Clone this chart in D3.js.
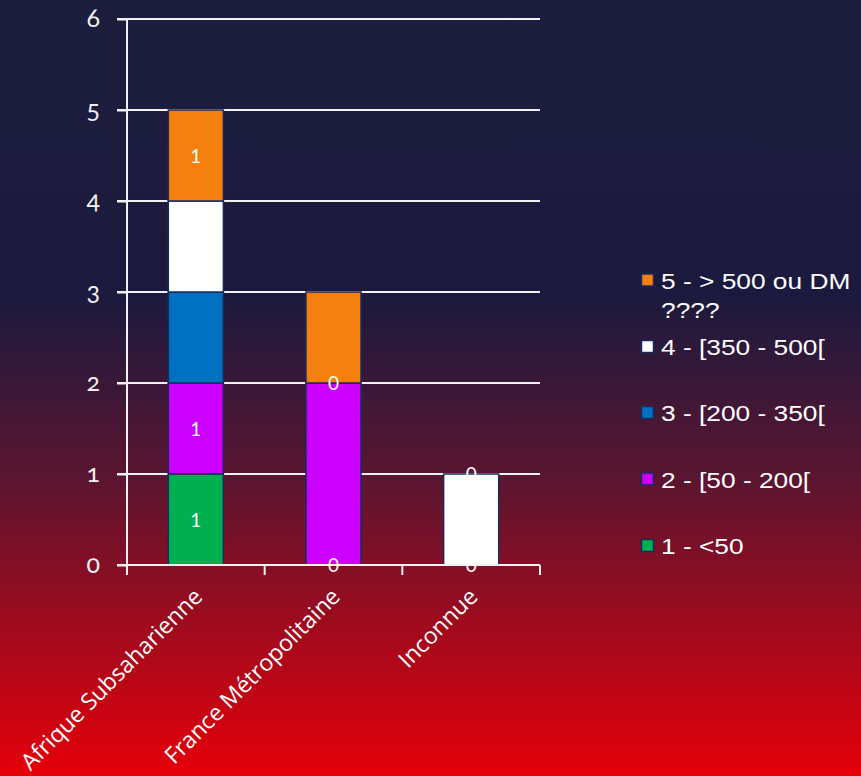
<!DOCTYPE html>
<html><head><meta charset="utf-8">
<script src="https://cdn.jsdelivr.net/npm/d3@7"></script>
<style>html,body{margin:0;padding:0;}svg{display:block;}</style>
</head><body>
<script>
const categories = ["Afrique Subsaharienne", "France Métropolitaine", "Inconnue"];
const seriesNames = ["1 - <50", "2 - [50 - 200[", "3 - [200 - 350[", "4 - [350 - 500[", "5 - > 500 ou DM ????"];
const seriesColors = ["#00b050", "#cc00ff", "#0070c0", "#ffffff", "#f58010"];
const s1 = [1, 0, 0];
const s2 = [1, 2, 0];
const s3 = [1, 0, 0];
const s4 = [1, 0, 1];
const s5 = [1, 1, 0];
const yTicks = [0, 1, 2, 3, 4, 5, 6];
// visible data labels: [category index, series index, text]
const shownLabels = [[0,0,"1"],[0,1,"1"],[0,4,"1"],[1,0,"0"],[1,2,"0"],[2,0,"0"],[2,4,"0"]];

const W = 861, H = 776;
const svg = d3.select("body").append("svg").attr("width", W).attr("height", H);
const defs = svg.append("defs");
const g = defs.append("linearGradient").attr("id","bg").attr("x1",0).attr("y1",0).attr("x2",0).attr("y2",1);
g.append("stop").attr("offset","0").attr("stop-color","#1d1e3e");
g.append("stop").attr("offset","0.38").attr("stop-color","#1b1a3e");
g.append("stop").attr("offset","0.62").attr("stop-color","#5c1530");
g.append("stop").attr("offset","1").attr("stop-color","#e6000a");
svg.append("rect").attr("width",W).attr("height",H).attr("fill","url(#bg)");

const x0 = 127, x1 = 540, yTop = 19, yBot = 565;
const x = d3.scaleBand().domain(categories).range([x0, x1]).paddingInner(0.6).paddingOuter(0.3);
const y = d3.scaleLinear().domain([0, 6]).range([yBot, yTop]);

const rows = categories.map((c, i) => {
  const r = {cat: c};
  [s1, s2, s3, s4, s5].forEach((s, j) => r[seriesNames[j]] = s[i]);
  return r;
});
const stacked = d3.stack().keys(seriesNames)(rows);

// gridlines
svg.append("g").selectAll("line").data(yTicks.slice(1)).join("line")
  .attr("x1", x0 - 10).attr("x2", x1).attr("y1", d => y(d)).attr("y2", d => y(d))
  .attr("stroke", "#f2f2f2").attr("stroke-width", 2);

// bars
stacked.forEach((layer, j) => {
  svg.append("g").selectAll("rect").data(layer.filter(d => d[1] - d[0] > 0)).join("rect")
    .attr("x", d => x(d.data.cat)).attr("width", x.bandwidth())
    .attr("y", d => y(d[1])).attr("height", d => y(d[0]) - y(d[1]))
    .attr("fill", seriesColors[j]).attr("stroke", "#1a2a5c").attr("stroke-width", 1.5);
});

// y axis
const yAxis = d3.axisLeft(y).tickValues(yTicks).tickSize(10).tickPadding(17).tickFormat(d3.format("d"));
const ya = svg.append("g").attr("transform", `translate(${x0},0)`).call(yAxis);
ya.attr("font-size", null).attr("font-family", null);
ya.select(".domain").attr("stroke", "#f2f2f2").attr("stroke-width", 2).attr("d", `M0,${yBot}V${yTop}`);
ya.selectAll(".tick line").attr("stroke", "#f2f2f2").attr("stroke-width", 2);
ya.selectAll(".tick text").attr("fill", "#f2f2f2").attr("dy", "0.3em")
  .attr("font-family", "Lato, 'Open Sans', sans-serif").attr("font-size", 25)
  .style("font-variant-numeric", "oldstyle-nums");

// x axis
const xa = svg.append("g").attr("transform", `translate(0,${yBot})`);
xa.append("line").attr("x1", x0 - 10).attr("x2", x1).attr("y1", 0).attr("y2", 0).attr("stroke", "#f2f2f2").attr("stroke-width", 2);
const step = (x1 - x0) / categories.length;
xa.selectAll(".tk").data(d3.range(categories.length + 1)).join("line")
  .attr("x1", i => x0 + i * step).attr("x2", i => x0 + i * step).attr("y1", 0).attr("y2", 10)
  .attr("stroke", "#f2f2f2").attr("stroke-width", 2);
xa.selectAll(".lbl").data(categories).join("text")
  .attr("transform", d => `translate(${x(d) + x.bandwidth() / 2 + 8},${33}) rotate(-45)`)
  .attr("text-anchor", "end").attr("fill", "#ffffff")
  .attr("font-family", "'Open Sans', sans-serif").attr("font-size", 23).text(d => d);

// data labels
svg.append("g").selectAll("text").data(shownLabels).join("text")
  .attr("x", d => x(categories[d[0]]) + x.bandwidth() / 2)
  .attr("y", d => { const seg = stacked[d[1]][d[0]]; return y((seg[0] + seg[1]) / 2) + 7; })
  .attr("text-anchor", "middle").attr("fill", "#ffffff")
  .attr("font-family", "Lato, 'Open Sans', sans-serif").attr("font-size", 19).text(d => d[2]);

// legend
const legendY = [280, 346.5, 412.5, 479, 545.5];
const leg = svg.append("g");
seriesNames.slice().reverse().forEach((name, k) => {
  const j = seriesNames.length - 1 - k;
  const cy = legendY[k];
  leg.append("rect").attr("x", 641.5).attr("y", cy - 6).attr("width", 12).attr("height", 12)
    .attr("fill", seriesColors[j]).attr("stroke", "#1a2a5c").attr("stroke-width", 1.5);
  const t = leg.append("text").attr("transform", `translate(661,${cy + 8.5}) scale(1.17,1)`).attr("fill", "#ffffff")
    .attr("font-family", "'Liberation Sans', Arial, sans-serif").attr("font-size", 22.5);
  if (name.length > 16) {
    t.append("tspan").attr("x", 0).text("5 - > 500 ou DM");
    t.append("tspan").attr("x", 0).attr("dy", 30).text("????");
  } else t.text(name);
});
</script>
</body></html>
